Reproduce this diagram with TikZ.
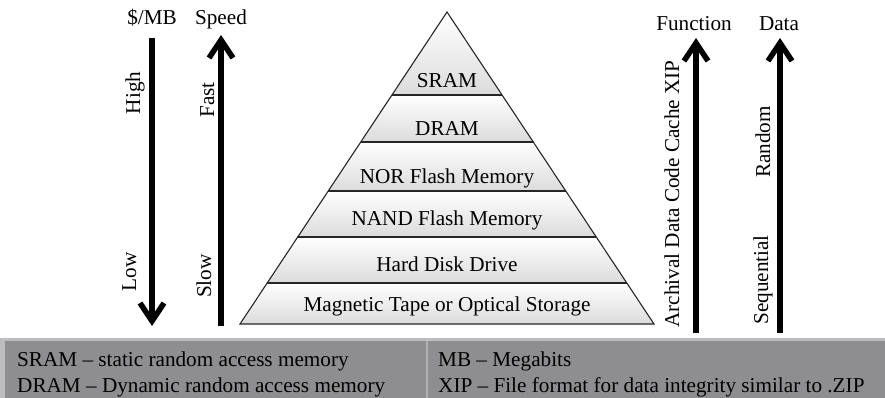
\documentclass[tikz,border=0pt]{standalone}
\usepackage{fontspec}
\setmainfont{Liberation Serif}
\usetikzlibrary{arrows.meta,calc}
\definecolor{band}{HTML}{8E8E90}
\definecolor{bandedge}{HTML}{BDBDBF}
\definecolor{divider}{HTML}{B0B0B2}
\tikzset{
  lbl/.style={font=\fontsize{21.2}{25}\selectfont, inner sep=0pt},
  vlbl/.style={lbl, rotate=90, anchor=base},
  tierlbl/.style={lbl, anchor=base},
  bigarrow/.style={line width=5.5pt, -{Straight Barb[length=18pt,width=24pt]}},
  tier/.style={top color=white, bottom color=gray!28},
  tieredge/.style={draw=black!85, line width=1.1pt},
  legend/.style={lbl, anchor=base west},
}
\begin{document}
\begin{tikzpicture}[x=1pt,y=-1pt]
\useasboundingbox (0,0) rectangle (885,398);

% pyramid corners
\coordinate (apex) at (447,12);
\coordinate (bl) at (240,324);
\coordinate (br) at (654,324);

% tier boundaries as fractions of the height
\foreach \f [count=\i] in {0.266,0.4167,0.5737,0.7212,0.8686,1.0} {
  \coordinate (l\i) at ($(apex)!\f!(bl)$);
  \coordinate (r\i) at ($(apex)!\f!(br)$);
}
\coordinate (l0) at (apex);
\coordinate (r0) at (apex);

% shaded tiers
\foreach \a/\b in {0/1,1/2,2/3,3/4,4/5,5/6} {
  \shade[tier] (l\a) -- (r\a) -- (r\b) -- (l\b) -- cycle;
}
% outline and separators
\draw[tieredge, line join=miter] (apex) -- (br) -- (bl) -- cycle;
\foreach \i in {1,...,5} { \draw[tieredge] (l\i) -- (r\i); }

% tier labels
\node[tierlbl] (sram) at (447,88)  {SRAM};
\node[tierlbl] (dram) at (447,136) {DRAM};
\node[tierlbl] (nor)  at (447,183) {NOR Flash Memory};
\node[tierlbl] (nand) at (447,225) {NAND Flash Memory};
\node[tierlbl] (hdd)  at (447,271) {Hard Disk Drive};
\node[tierlbl] (tape) at (447,311) {Magnetic Tape or Optical Storage};

% cost arrow
\node[lbl, anchor=base] (mb) at (152,25) {\$/MB};
\coordinate (mbtop) at (152,38);
\coordinate (mbbot) at (152,326);
\draw[bigarrow] (mbtop) -- (mbbot);
\node[vlbl] (high) at (140,93) {High};
\node[vlbl] (low) at (136,272) {Low};

% speed arrow
\node[lbl, anchor=base] (speed) at (221,25) {Speed};
\coordinate (sptop) at (221,35);
\coordinate (spbot) at (221,326);
\draw[bigarrow] (spbot) -- (sptop);
\node[vlbl] (fast) at (214,100) {Fast};
\node[vlbl] (slow) at (211,276) {Slow};

% function arrow
\node[lbl, anchor=base] (func) at (694,31) {Function};
\coordinate (fntop) at (696,38);
\coordinate (fnbot) at (696,333);
\draw[bigarrow] (fnbot) -- (fntop);
\node[vlbl] (fnlist) at (679,194) {Archival Data Code Cache XIP};

% data arrow
\node[lbl, anchor=base] (data) at (779,31) {Data};
\coordinate (dttop) at (780,38);
\coordinate (dtbot) at (780,333);
\draw[bigarrow] (dtbot) -- (dttop);
\node[vlbl] (random) at (770,142) {Random};
\node[vlbl] (seq) at (768,280) {Sequential};

% legend band
\fill[bandedge] (0,338) rectangle (885,398);
\fill[band] (5,341) rectangle (885,398);
\draw[divider, line width=1.2pt] (427,341) -- (427,398);
\node[legend] (k1) at (17,366) {SRAM -- static random access memory};
\node[legend] (k2) at (17,392) {DRAM -- Dynamic random access memory};
\node[legend] (k3) at (438,366) {MB -- Megabits};
\node[legend] (k4) at (438,392) {XIP -- File format for data integrity similar to .ZIP};
\end{tikzpicture}
\end{document}
